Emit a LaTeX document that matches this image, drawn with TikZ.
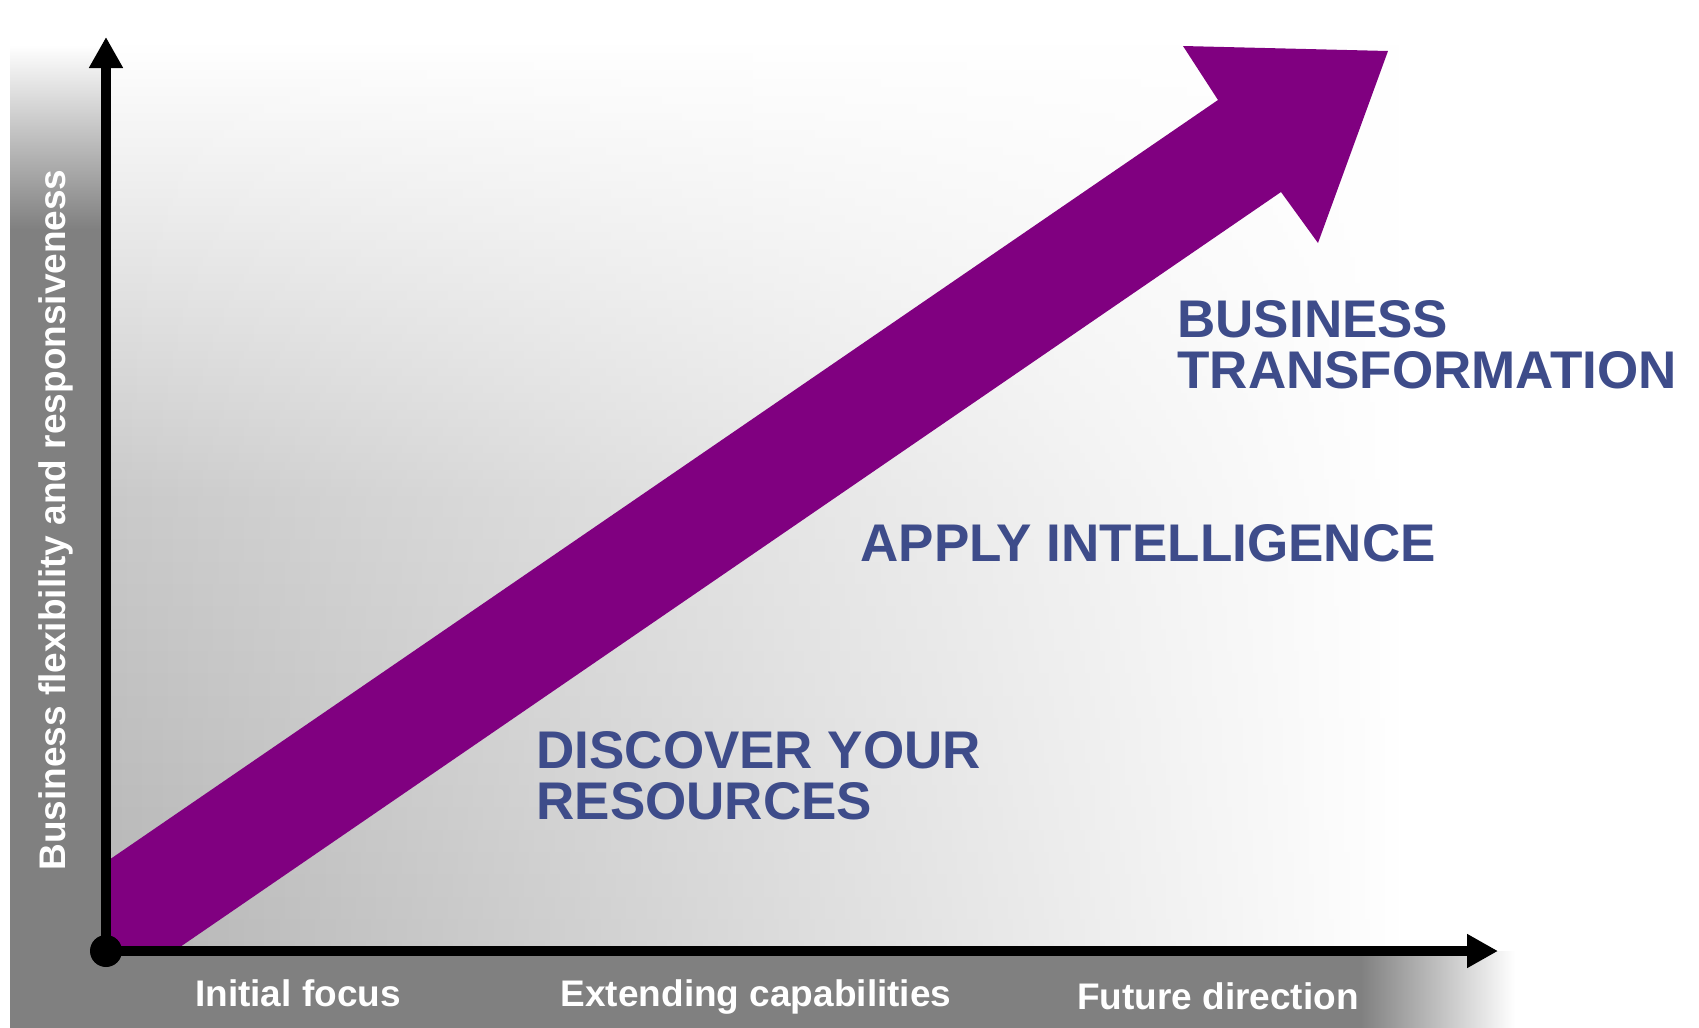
\documentclass[tikz,border=0pt]{standalone}
\usepackage{fontspec}
\setmainfont{Liberation Sans}
\usetikzlibrary{arrows.meta,fadings}

\definecolor{arrowpurple}{RGB}{128,0,128}
\definecolor{stageblue}{RGB}{62,76,138}
\tikzfading[name=fadeinright, left color=transparent!100, right color=transparent!0]

\begin{document}
\begin{tikzpicture}[x=0.5pt,y=-0.5pt,
	axis/.style={line width=5pt, -{Triangle[length=15.5pt,width=16pt]}},
	stage/.style={anchor=base west, inner sep=0pt, align=left, text=stageblue, font=\fontsize{26.5}{25.5}\selectfont\bfseries},
	axislabel/.style={anchor=base, inner sep=0pt, text=white, font=\fontsize{18.5}{22}\selectfont\bfseries}]

	\useasboundingbox (0,0) rectangle (1699,1028);
	\fill[white] (0,0) rectangle (1699,1028);

	% Background
	\fill[top color=white, bottom color=gray!58, middle color=gray!42] (106,40) rectangle (1520,951);
	\fill[white, path fading=fadeinright] (106,40) rectangle (1400,951);
	\fill[white] (1399,36) rectangle (1699,956);

	% Side bands
	\fill[top color=white, bottom color=gray] (10,45) rectangle (106,230);
	\fill[gray] (10,229) rectangle (106,1028);
	\fill[gray] (10,951) rectangle (1361,1028);
	\fill[left color=gray, right color=white] (1360,951) rectangle (1515,1028);

	% Growth arrow
	\fill[arrowpurple] (106,862) -- (1218,100) -- (1183,46) -- (1388,51) -- (1318,243) -- (1281,192) -- (180,947) -- (106,947) -- cycle;

	% Axes
	\coordinate (origin) at (106,951);
	\coordinate (ytip) at (106,37);
	\coordinate (xtip) at (1498,951);
	\draw[axis] (origin) -- (ytip);
	\draw[axis] (origin) -- (xtip);
	\fill (origin) circle (8pt);

	% Labels
	\node[axislabel, rotate=90] (ylabel) at (65,520) {Business flexibility and responsiveness};
	\node[axislabel] (focus) at (298,1006) {Initial focus};
	\node[axislabel] (extending) at (756,1006) {Extending capabilities};
	\node[axislabel] (future) at (1218,1009) {Future direction};

	% Stages (base = last line)
	\node[stage] (discover) at (536,819) {DISCOVER YOUR\\RESOURCES};
	\node[stage] (apply) at (860,561) {APPLY INTELLIGENCE};
	\node[stage] (transform) at (1177,388) {BUSINESS\\TRANSFORMATION};

\end{tikzpicture}
\end{document}
